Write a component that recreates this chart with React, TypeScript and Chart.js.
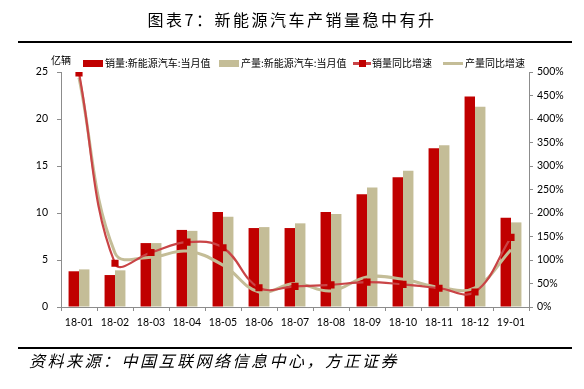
import React, { useEffect, useRef } from "react";
import { Chart, registerables } from "chart.js";
Chart.register(...registerables);

const categories = ["18-01", "18-02", "18-03", "18-04", "18-05", "18-06", "18-07", "18-08", "18-09", "18-10", "18-11", "18-12", "19-01"];
const salesMonthly = [3.8, 3.4, 6.8, 8.2, 10.1, 8.4, 8.4, 10.1, 12.0, 13.8, 16.9, 22.4, 9.5];
const productionMonthly = [4.0, 3.9, 6.8, 8.1, 9.6, 8.5, 8.9, 9.9, 12.7, 14.5, 17.2, 21.3, 9.0];
const salesYoY = [498, 93, 116, 138, 126, 41, 44, 47, 53, 48, 40, 32, 148];
const productionYoY = [488, 115, 106, 119, 89, 32, 50, 34, 64, 59, 42, 41, 122];
const leftAxis = { min: 0, max: 25, step: 5 };
const rightAxis = { min: 0, max: 500, step: 50 };

const seriesNames = ["销量:新能源汽车:当月值", "产量:新能源汽车:当月值", "销量同比增速", "产量同比增速"];
const titleText = "图表7：新能源汽车产销量稳中有升";
const sourceText = "资料来源：中国互联网络信息中心，方正证券";
const unitText = "亿辆";

const RED = "#C00000";
const TAN = "#C4BD97";
const RED_LINE = "#C94446";
const AXIS = "#8C8C8C";
const CJK = '"Noto Sans CJK SC", "Noto Sans", sans-serif';
const NUM = 'Lato, "Noto Sans", sans-serif';

export default function App() {
  const ref = useRef<HTMLCanvasElement | null>(null);
  useEffect(() => {
    if (!ref.current) return;
    const chart = new Chart(ref.current, {
      type: "bar",
      data: {
        labels: categories,
        datasets: [
          { type: "line", label: seriesNames[2], data: salesYoY, yAxisID: "y1", borderColor: RED_LINE, borderWidth: 2.2, tension: 0.4, pointStyle: "rect", pointRadius: 3.5, pointBackgroundColor: RED, pointBorderColor: RED, order: 1 },
          { type: "line", label: seriesNames[3], data: productionYoY, yAxisID: "y1", borderColor: TAN, borderWidth: 3, tension: 0.4, pointRadius: 0, order: 2 },
          { type: "bar", label: seriesNames[0], data: salesMonthly, yAxisID: "y", backgroundColor: RED, barPercentage: 1, categoryPercentage: 0.58, order: 3 },
          { type: "bar", label: seriesNames[1], data: productionMonthly, yAxisID: "y", backgroundColor: TAN, barPercentage: 1, categoryPercentage: 0.58, order: 3 },
        ],
      } as any,
      options: {
        responsive: false,
        animation: false,
        layout: { padding: { top: 72, bottom: 58, left: 0, right: 0 } },
        plugins: { legend: { display: false }, tooltip: { enabled: false }, title: { display: false } },
        scales: {
          x: {
            offset: true,
            grid: { display: true, drawOnChartArea: false, offset: true, tickLength: 4, color: AXIS },
            border: { color: AXIS },
            ticks: { color: "#000", font: { family: NUM, size: 10.5 }, maxRotation: 0, padding: 5 },
            afterFit: (s: any) => { s.height = 24; },
          },
          y: {
            position: "left",
            min: leftAxis.min,
            max: leftAxis.max,
            grid: { display: true, drawOnChartArea: false, tickLength: 4, color: AXIS },
            border: { color: AXIS },
            ticks: { stepSize: leftAxis.step, color: "#000", font: { family: NUM, size: 10.5 }, padding: 9 },
            afterFit: (s: any) => { s.width = 61; },
          },
          y1: {
            position: "right",
            min: rightAxis.min,
            max: rightAxis.max,
            grid: { display: true, drawOnChartArea: false, tickLength: 4, color: AXIS },
            border: { color: AXIS },
            ticks: { stepSize: rightAxis.step, color: "#000", font: { family: NUM, size: 10.5 }, padding: 4, callback: (v: any) => v + "%" },
            afterFit: (s: any) => { s.width = 55; },
          },
        },
      } as any,
    });
    return () => chart.destroy();
  }, []);

  const legendText: React.CSSProperties = { position: "absolute", top: 56, fontFamily: CJK, fontSize: 10, lineHeight: "14px", color: "#000", whiteSpace: "nowrap" };
  return (
    <div style={{ position: "fixed", left: 0, top: 0, width: 584, height: 389, background: "#fff", overflow: "hidden" }}>
      <canvas ref={ref} width={584} height={389} style={{ position: "absolute", left: 0, top: 0, width: 584, height: 389 }} />
      <div style={{ position: "absolute", left: 0, width: 584, top: 8, textAlign: "center", fontFamily: CJK, fontSize: 16, lineHeight: "22px", color: "#000", letterSpacing: 2.5 }}>{titleText}</div>
      <div style={{ position: "absolute", left: 18, top: 41, width: 554, height: 2, background: "#000" }} />
      <div style={{ position: "absolute", left: 18, top: 347, width: 554, height: 2, background: "#000" }} />
      <div style={{ position: "absolute", left: 29, top: 349, fontFamily: CJK, fontStyle: "italic", fontSize: 16, lineHeight: "22px", color: "#000", letterSpacing: 2.5 }}>{sourceText}</div>
      <div style={{ position: "absolute", left: 51, top: 53, fontFamily: CJK, fontSize: 10, lineHeight: "14px", color: "#000" }}>{unitText}</div>
      <div style={{ position: "absolute", left: 83, top: 60, width: 20, height: 7, background: RED }} />
      <div style={{ ...legendText, left: 105 }}>{seriesNames[0]}</div>
      <div style={{ position: "absolute", left: 219, top: 60, width: 20, height: 7, background: TAN }} />
      <div style={{ ...legendText, left: 241 }}>{seriesNames[1]}</div>
      <div style={{ position: "absolute", left: 353, top: 62, width: 18, height: 3, background: RED_LINE }} />
      <div style={{ position: "absolute", left: 359, top: 60, width: 7, height: 7, background: RED }} />
      <div style={{ ...legendText, left: 372 }}>{seriesNames[2]}</div>
      <div style={{ position: "absolute", left: 443, top: 62, width: 20, height: 3, background: TAN }} />
      <div style={{ ...legendText, left: 465 }}>{seriesNames[3]}</div>
    </div>
  );
}
